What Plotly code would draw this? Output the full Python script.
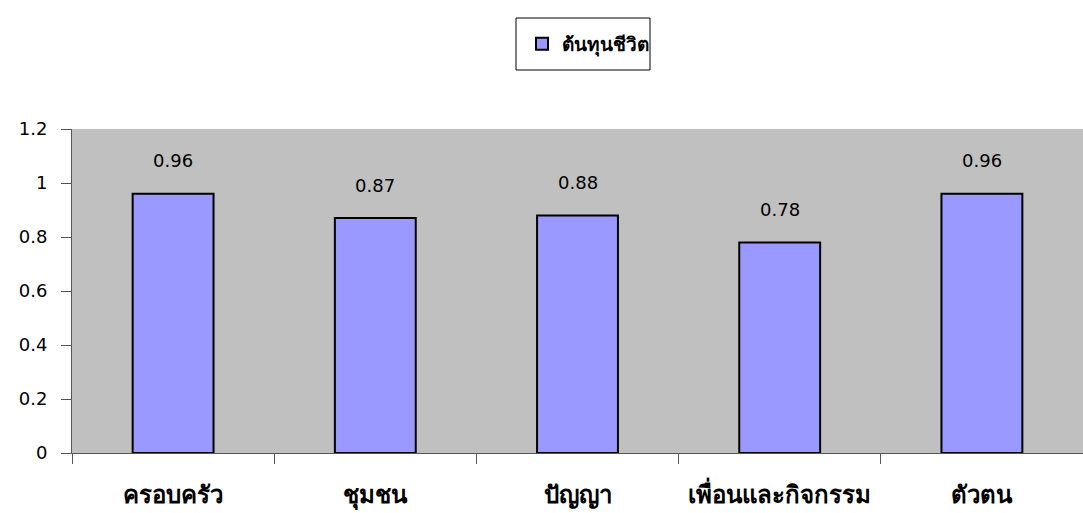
import plotly.graph_objects as go

# Life-capital scores by domain
categories = ["ครอบครัว", "ชุมชน", "ปัญญา", "เพื่อนและกิจกรรม", "ตัวตน"]
values = [0.96, 0.87, 0.88, 0.78, 0.96]
series_name = "ต้นทุนชีวิต"
y_ticks = [0, 0.2, 0.4, 0.6, 0.8, 1.0, 1.2]
y_tick_labels = ["0", "0.2", "0.4", "0.6", "0.8", "1", "1.2"]

PLOT_L, PLOT_R = 72, 1083
PLOT_T, PLOT_B = 129, 453
W, H = 1083, 513

def px_x(x):
    return (x - PLOT_L) / (PLOT_R - PLOT_L)

def px_y(y):
    return (PLOT_B - y) / (PLOT_B - PLOT_T)

fig = go.Figure()
fig.add_trace(go.Bar(
    x=categories,
    y=values,
    name=series_name,
    width=0.4,
    marker=dict(color="#9999FF", line=dict(color="black", width=2)),
    showlegend=True,
))

# value labels floating above each bar
for c, v in zip(categories, values):
    fig.add_annotation(
        x=c, y=v, text=f"{v:g}", showarrow=False,
        yshift=33, yanchor="middle",
        font=dict(family="DejaVu Sans, Verdana, sans-serif", size=18, color="black"),
    )

# legend frame
fig.add_shape(
    type="rect", xref="paper", yref="paper",
    x0=px_x(516), x1=px_x(650), y0=px_y(70), y1=px_y(18),
    line=dict(color="black", width=1), fillcolor="rgba(0,0,0,0)",
)

fig.update_layout(
    width=W, height=H,
    margin=dict(l=PLOT_L, r=W - PLOT_R, t=PLOT_T, b=H - PLOT_B),
    paper_bgcolor="white",
    plot_bgcolor="#C0C0C0",
    showlegend=True,
    legend=dict(
        x=px_x(522), y=px_y(44), xanchor="left", yanchor="middle",
        borderwidth=0, bgcolor="rgba(0,0,0,0)",
        font=dict(family="Tahoma, DejaVu Sans, sans-serif", size=19, color="black", weight="bold"),
        itemwidth=30,
    ),
    xaxis=dict(
        type="category",
        showline=True, linecolor="#555555", linewidth=1,
        ticks="outside", tickson="boundaries", ticklen=10, tickcolor="#555555",
        tickfont=dict(family="Tahoma, DejaVu Sans, sans-serif", size=24, color="black", weight="bold"),
        ticklabelstandoff=20,
        showgrid=False,
        range=[-0.5, 4.5],
    ),
    yaxis=dict(
        range=[0, 1.2],
        tickvals=y_ticks, ticktext=y_tick_labels,
        showline=True, linecolor="#555555", linewidth=1,
        ticks="outside", ticklen=10, tickcolor="#555555",
        tickfont=dict(family="DejaVu Sans, Verdana, sans-serif", size=18, color="black"),
        ticklabelstandoff=10,
        showgrid=False, zeroline=False,
    ),
)

fig.write_html("out.html")
